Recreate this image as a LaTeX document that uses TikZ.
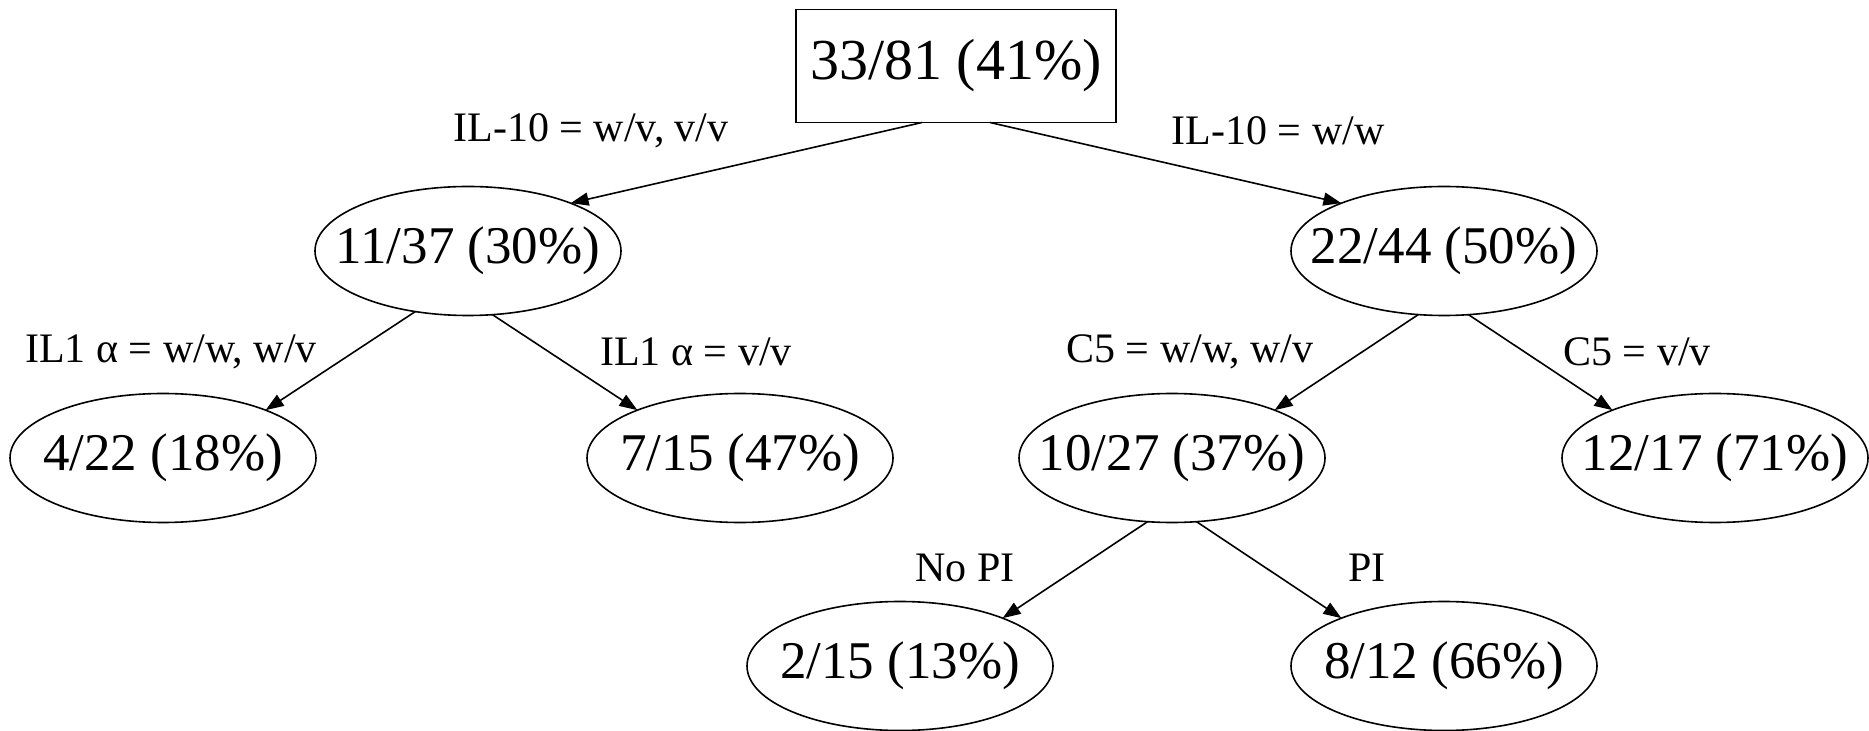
\documentclass[tikz,border=0pt]{standalone}
\usepackage{fontspec}
\setmainfont{Liberation Serif}
\usetikzlibrary{shapes.geometric,arrows.meta}

\tikzset{
  rootbox/.style={draw, line width=0.8pt, rectangle, minimum width=160pt,
    minimum height=56.5pt, inner sep=0pt, outer sep=0pt, font=\fontsize{29pt}{34pt}\selectfont},
  leaf/.style={draw, line width=0.8pt, ellipse, minimum width=153pt,
    minimum height=64.5pt, inner sep=0pt, outer sep=0pt, font=\fontsize{26.5pt}{31pt}\selectfont},
  split/.style={inner sep=0pt, font=\fontsize{21pt}{25pt}\selectfont},
  edge/.style={line width=0.8pt, -{Triangle[length=9pt,width=6.5pt]}}
}
% text of a fixed-size ellipse, kept from widening the shape
\newcommand{\nodetext}[1]{\makebox[0pt]{#1}}

\begin{document}
\begin{tikzpicture}[x=0.5pt,y=-0.5pt]
  \useasboundingbox (0,0) rectangle (1869,731);

  % tree nodes
  \node[rootbox] (root) at (956,66)  {33/81 (41\%)};
  \node[leaf]    (a)    at (468,251) {\nodetext{11/37 (30\%)}};
  \node[leaf]    (b)    at (1444,251) {\nodetext{22/44 (50\%)}};
  \node[leaf]    (aa)   at (163,458) {\nodetext{4/22 (18\%)}};
  \node[leaf]    (ab)   at (740,458) {\nodetext{7/15 (47\%)}};
  \node[leaf]    (ba)   at (1172,458) {\nodetext{10/27 (37\%)}};
  \node[leaf]    (bb)   at (1715,458) {\nodetext{12/17 (71\%)}};
  \node[leaf]    (baa)  at (900,666) {\nodetext{2/15 (13\%)}};
  \node[leaf]    (bab)  at (1444,666) {\nodetext{8/12 (66\%)}};

  % branches
  \draw[edge] (root.239) -- (a.25);
  \draw[edge] (root.301) -- (b.155);
  \draw[edge] (a.229) -- (aa.25);
  \draw[edge] (a.291) -- (ab.155);
  \draw[edge] (b.248) -- (ba.25);
  \draw[edge] (b.291) -- (bb.155);
  \draw[edge] (ba.249) -- (baa.25);
  \draw[edge] (ba.291) -- (bab.155);

  % split conditions
  \node[split] (la)   at (591,131)  {IL-10 = w/v, v/v};
  \node[split] (lb)   at (1278,131) {IL-10 = w/w};
  \node[split] (laa)  at (171,352)  {IL1 α = w/w, w/v};
  \node[split] (lab)  at (696,352)  {IL1 α = v/v};
  \node[split] (lba)  at (1190,352) {C5 = w/w, w/v};
  \node[split] (lbb)  at (1637,352) {C5 = v/v};
  \node[split] (lbaa) at (965,568)  {No PI};
  \node[split] (lbab) at (1367,568) {PI};
\end{tikzpicture}
\end{document}
